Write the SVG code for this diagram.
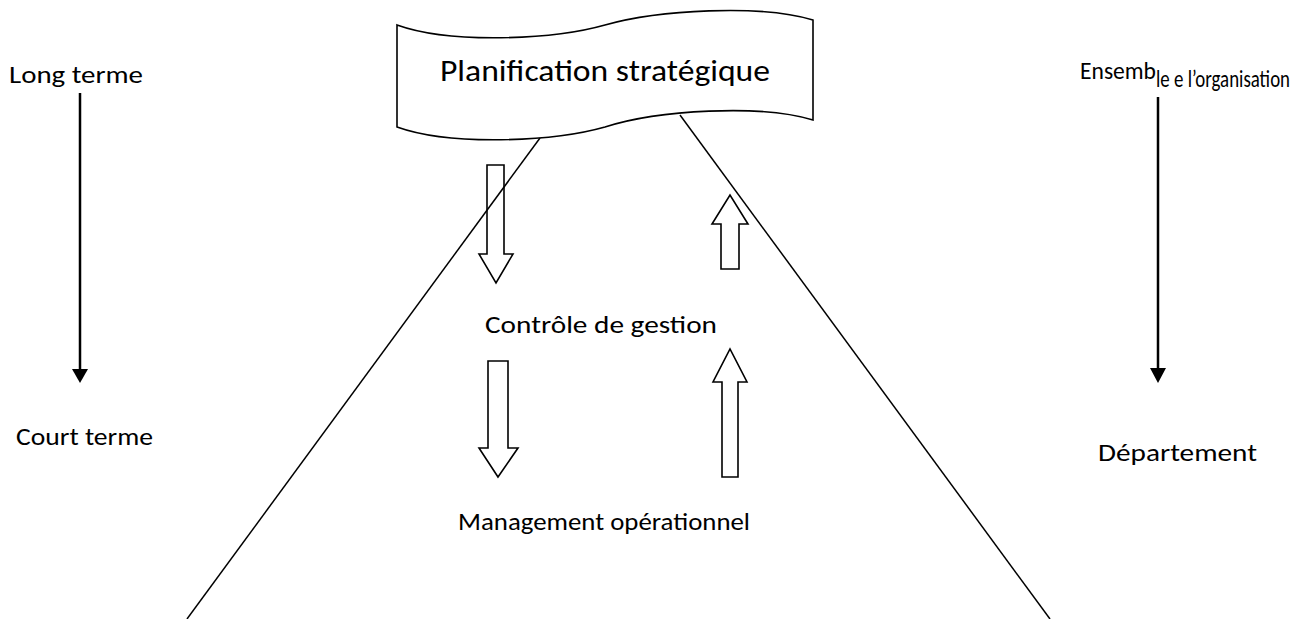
<svg xmlns="http://www.w3.org/2000/svg" width="1299" height="619" viewBox="0 0 1299 619">
  <style>
    .txt { font-family: Carlito, Lato, "Open Sans", sans-serif; font-size: 25px; fill: #000; }
    .title { font-size: 31px; }
    .small { font-size: 24px; }
    .hollow { fill: none; stroke: #000; stroke-width: 1.6; stroke-linejoin: miter; }
    .edge { fill: none; stroke: #000; stroke-width: 1.5; }
    .axis { fill: none; stroke: #000; stroke-width: 2.5; }
  </style>

  <rect width="1299" height="619" fill="#fff"/>

  <!-- pyramid sides, axes and block arrows -->
  <g id="connectors">
    <line class="edge" x1="540" y1="138" x2="187" y2="619"/>
    <line class="edge" x1="680" y1="115" x2="1050" y2="619"/>
    <!-- time horizon and scope axes -->
    <path class="axis" d="M80,93 L80,370"/>
    <path d="M72,369 L88,369 L80,383 Z" fill="#000"/>
    <path class="axis" d="M1158,97 L1158,369"/>
    <path d="M1150,368 L1166,368 L1158,383 Z" fill="#000"/>
    <!-- hollow block arrows between levels -->
    <path class="hollow" d="M487,165 L504,165 L504,254 L513,254 L496,283 L479,254 L487,254 Z"/>
    <path class="hollow" d="M721,269 L739,269 L739,224 L748,224 L730,195 L712,224 L721,224 Z"/>
    <path class="hollow" d="M488,361 L508,361 L508,448 L518,448 L498,477 L479,448 L488,448 Z"/>
    <path class="hollow" d="M722,477 L738,477 L738,382 L747,382 L730,349 L713,382 L722,382 Z"/>
  </g>

  <!-- wave banner at the top -->
  <g id="planification">
    <path fill="#fff" stroke="#000" stroke-width="1.6"
          d="M397,25 C450,44 552,40 605,25 C658,10 760,4 813,20 L813,120 C760,104 658,110 605,127 C552,142 450,146 397,127 Z"/>
    <text class="txt title" x="440" y="81" textLength="330" lengthAdjust="spacingAndGlyphs">Planification stratégique</text>
  </g>

  <g id="controle">
    <text class="txt" x="485" y="333" textLength="232" lengthAdjust="spacingAndGlyphs">Contrôle de gestion</text>
  </g>

  <g id="management">
    <text class="txt" x="458" y="530" textLength="292" lengthAdjust="spacingAndGlyphs">Management opérationnel</text>
  </g>

  <g id="long-terme">
    <text class="txt" x="9" y="83" textLength="134" lengthAdjust="spacingAndGlyphs">Long terme</text>
  </g>

  <g id="court-terme">
    <text class="txt" x="16" y="445" textLength="137" lengthAdjust="spacingAndGlyphs">Court terme</text>
  </g>

  <g id="ensemble">
    <text class="txt small" x="1080" y="79" textLength="76" lengthAdjust="spacingAndGlyphs">Ensemb</text>
    <text class="txt small" x="1156" y="87" textLength="134" lengthAdjust="spacingAndGlyphs">le e l’organisation</text>
  </g>

  <g id="departement">
    <text class="txt" x="1098" y="461" textLength="159" lengthAdjust="spacingAndGlyphs">Département</text>
  </g>
</svg>
